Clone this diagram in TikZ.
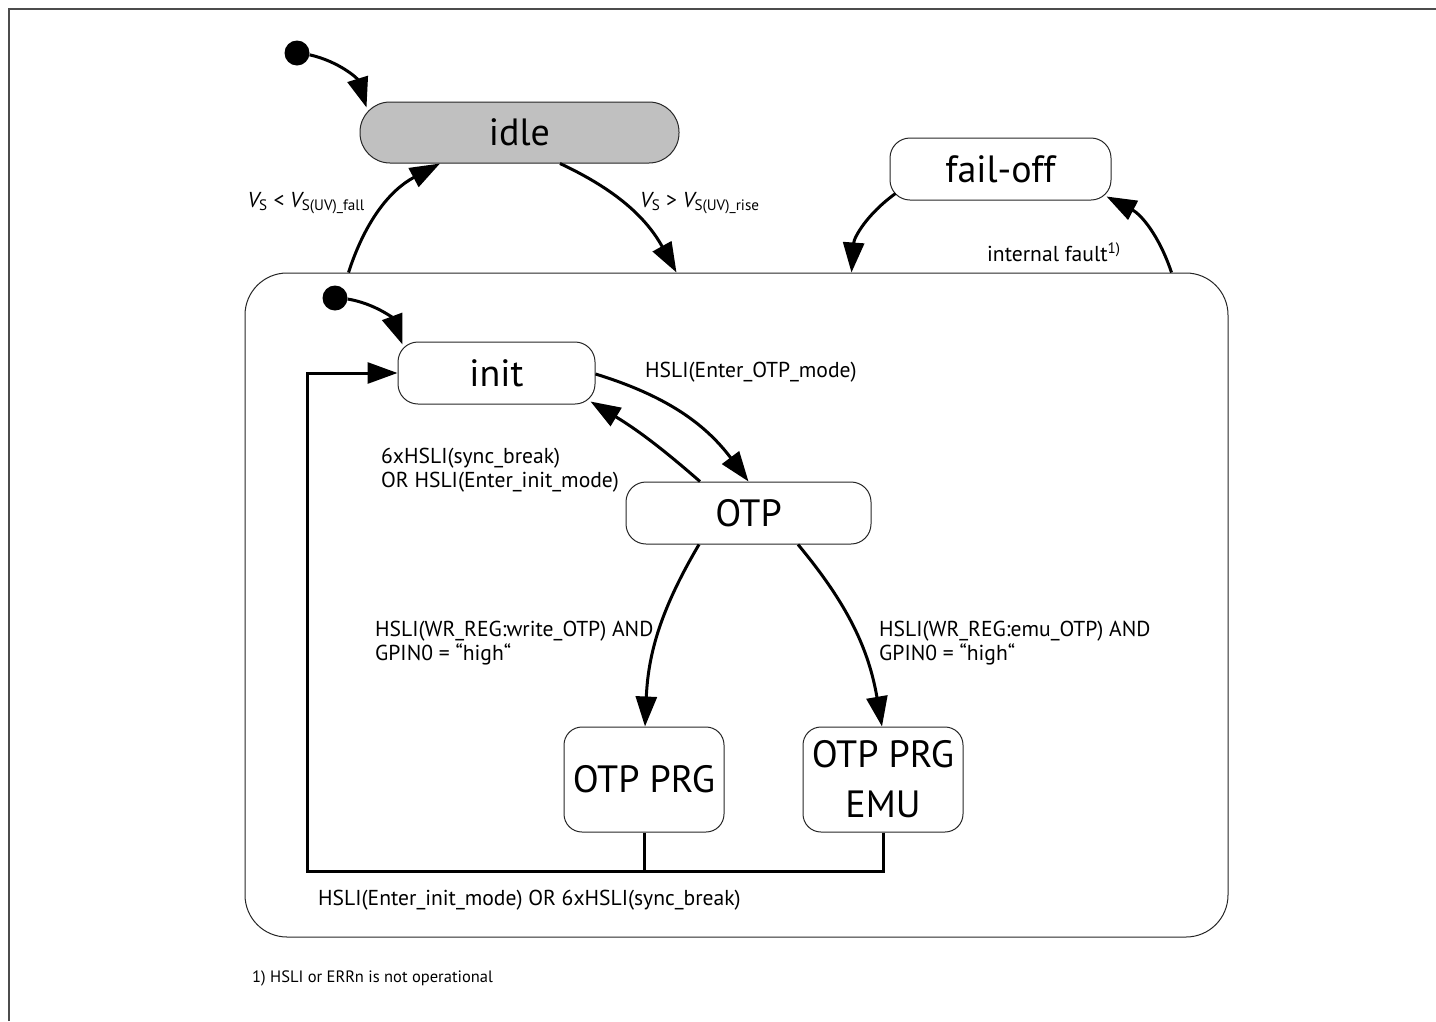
\documentclass[tikz,border=0pt]{standalone}
\usepackage{fontspec}
\setmainfont{PT Sans}
\usetikzlibrary{arrows.meta,calc}
\begin{document}
\begin{tikzpicture}[x=1pt,y=-1pt,
  state/.style={draw=black!85, line width=1pt, rounded corners=20pt, inner sep=0pt,
    font=\fontsize{38}{42}\selectfont, align=center},
  tr/.style={line width=3pt, -{Triangle[length=30pt,width=21pt]}},
  plain/.style={line width=3pt},
  lbl/.style={font=\fontsize{21.6}{24.5}\selectfont, inner sep=0pt, align=left},
  dot/.style={circle, fill=black, minimum size=25pt, inner sep=0pt}
]
\useasboundingbox (0,0) rectangle (1436,1021);
% frame
\coordinate (fbl) at (9,1021);
\coordinate (ftl) at (9,9);
\coordinate (ftr) at (1436,9);
\draw[line width=2pt, black!70] (fbl) -- (ftl) -- (ftr);

% container
\node[draw=black!85, line width=1pt, rounded corners=42pt, minimum width=983pt, minimum height=664pt, inner sep=0pt] (sys) at (736.5,605) {};

% states
\node[state, fill={rgb,255:red,192;green,192;blue,192}, rounded corners=30pt, minimum width=319pt, minimum height=61pt] (idle) at (519.5,132.5) {idle};
\node[state, minimum width=221pt, minimum height=62pt] (fail) at (1000.5,169) {fail-off};
\node[state, minimum width=197pt, minimum height=62pt] (init) at (496.5,373) {init};
\node[state, minimum width=245pt, minimum height=62pt] (otp) at (748.5,513) {OTP};
\node[state, rounded corners=18pt, minimum width=160pt, minimum height=105pt] (prg) at (644,779.5) {OTP PRG};
\node[state, rounded corners=18pt, minimum width=160pt, minimum height=105pt, font=\fontsize{38}{50}\selectfont] (emu) at (883,779.5) {OTP PRG\\EMU};

% initial dots
\node[dot] (i0) at (297,53) {};
\node[dot] (i1) at (335,298) {};

% transitions
\draw[tr] (i0) to[bend left=30] ($(idle.north west)+(7,6)$);
\draw[tr] ($(sys.north west)+(104,0)$) to[bend left=22] ($(idle.south)+(-79.5,0)$);
\draw[tr] ($(idle.south)+(40.5,0)$) to[bend left=18] ($(sys.north west)+(432,0)$);
\draw[tr] ($(fail.south west)+(6,-7)$) to[bend right=25] ($(sys.north west)+(607,0)$);
\draw[tr] ($(sys.north west)+(927,0)$) to[bend right=22] ($(fail.south east)+(-5,-4)$);

\draw[tr] (i1) to[bend left=30] ($(init.north west)+(5,3)$);
\draw[tr] ($(init.east)+(0,1)$) to[bend left=18] (otp.north);
\draw[tr] ($(otp.north)+(-48.5,0)$) to[bend right=5] ($(init.south east)+(-5,-3)$);
\draw[tr] ($(otp.south)+(-49.5,0)$) to[bend right=14] ($(prg.north)+(1,0)$);
\draw[tr] ($(otp.south)+(49.5,0)$) to[bend left=15] ($(emu.north)+(-1,0)$);

% return path
\coordinate (jl) at (307,871);
\draw[plain] (prg.south) -- (prg.south |- jl);
\draw[tr] (emu.south) |- (jl) |- (init.west);

% labels
\node[lbl, anchor=east] (l1) at (365,203) {\itshape V\upshape\textsubscript{S} < \itshape V\upshape\textsubscript{S(UV)\_fall}};
\node[lbl, anchor=west] (l2) at (640,203) {\itshape V\upshape\textsubscript{S} > \itshape V\upshape\textsubscript{S(UV)\_rise}};
\node[lbl, anchor=west] (l3) at (987,252) {internal fault\textsuperscript{1)}};
\node[lbl, anchor=west] (l4) at (645,372) {HSLI(Enter\_OTP\_mode)};
\node[lbl, anchor=west] (l5) at (381,470) {6xHSLI(sync\_break)\\OR HSLI(Enter\_init\_mode)};
\node[lbl, anchor=west] (l6) at (375,643) {HSLI(WR\_REG:write\_OTP) AND\\GPIN0 = “high“};
\node[lbl, anchor=west] (l7) at (879,643) {HSLI(WR\_REG:emu\_OTP) AND\\GPIN0 = “high“};
\node[lbl, anchor=west] (l8) at (318,900) {HSLI(Enter\_init\_mode) OR 6xHSLI(sync\_break)};
\node[lbl, anchor=west, font=\fontsize{16.5}{19}\selectfont] (fn) at (252,978) {1) HSLI or ERRn is not operational};
\end{tikzpicture}
\end{document}
